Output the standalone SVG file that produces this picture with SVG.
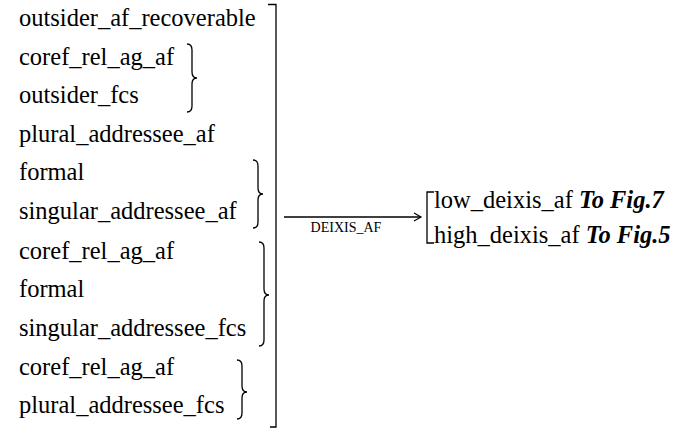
<svg xmlns="http://www.w3.org/2000/svg" width="696" height="431" viewBox="0 0 696 431">
<defs>
<style>
text{font-family:'Liberation Serif','Times New Roman',serif;fill:#000}
.t{font-size:24.5px}
.b{font-weight:bold;font-style:italic}
.lbl{font-size:14px}
.ln{fill:none;stroke:#000;stroke-width:1.3}
</style>
<marker id="ah" markerWidth="10" markerHeight="10" refX="8" refY="5" orient="auto" markerUnits="userSpaceOnUse">
<path d="M1,1 L8,5 L1,9" fill="none" stroke="#000" stroke-width="1.2"/>
</marker>
</defs>
<rect width="696" height="431" fill="#fff"/>
<g id="inputs">
<text class="t" x="19" y="26">outsider_af_recoverable</text>
<text class="t" x="19" y="65">coref_rel_ag_af</text>
<text class="t" x="19" y="103">outsider_fcs</text>
<text class="t" x="19" y="142">plural_addressee_af</text>
<text class="t" x="19" y="180">formal</text>
<text class="t" x="19" y="219">singular_addressee_af</text>
<text class="t" x="19" y="259">coref_rel_ag_af</text>
<text class="t" x="19" y="297">formal</text>
<text class="t" x="19" y="336">singular_addressee_fcs</text>
<text class="t" x="19" y="375">coref_rel_ag_af</text>
<text class="t" x="19" y="413">plural_addressee_fcs</text>
</g>
<g id="braces">
<path class="ln" d="M187,44 Q192,44 192,50 L192,72 Q192,78 197,78 Q192,78 192,84 L192,106 Q192,112 187,112"/>
<path class="ln" d="M253,160 Q258,160 258,166 L258,188 Q258,194 263,194 Q258,194 258,200 L258,222 Q258,228 253,228"/>
<path class="ln" d="M259,242 Q264,242 264,248 L264,289 Q264,295 269,295 Q264,295 264,301 L264,340 Q264,346 259,346"/>
<path class="ln" d="M237,360 Q242,360 242,366 L242,386 Q242,392 247,392 Q242,392 242,398 L242,413 Q242,419 237,419"/>
</g>
<g id="bigbracket">
<path class="ln" d="M268,4.5 L276,4.5 L276,427 L270,427"/>
</g>
<g id="connectors">
<line class="ln" x1="284" y1="217" x2="421" y2="217" marker-end="url(#ah)"/>
<text class="lbl" x="346" y="232" text-anchor="middle">DEIXIS_AF</text>
</g>
<g id="outputs">
<path class="ln" d="M434,192 L427,192 L427,243 L434,243"/>
<text class="t" x="434" y="208">low_deixis_af <tspan class="b">To Fig.7</tspan></text>
<text class="t" x="434" y="243">high_deixis_af <tspan class="b">To Fig.5</tspan></text>
</g>
</svg>
